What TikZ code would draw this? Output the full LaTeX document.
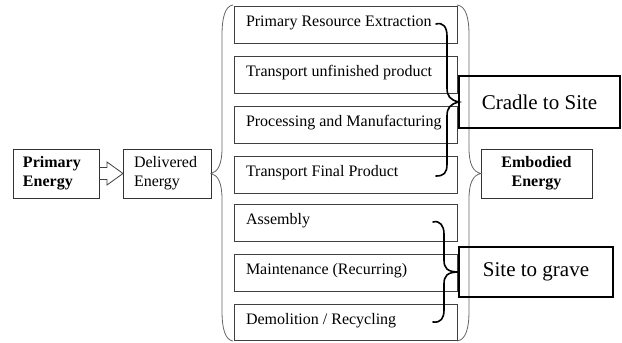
\documentclass[tikz,border=0pt]{standalone}
\usepackage{fontspec}
\setmainfont{Liberation Serif}
\usetikzlibrary{calc}
\begin{document}
\begin{tikzpicture}[x=1pt,y=-1pt,
  every node/.style={inner sep=0pt, outer sep=0pt},
  sidebox/.style={draw=black!80, line width=0.8pt, minimum height=49pt,
    font=\fontsize{16}{19}\selectfont},
  stagebox/.style={draw=black!75, line width=0.7pt, minimum width=223pt,
    minimum height=37pt, anchor=north west},
  stagetext/.style={anchor=base west, font=\fontsize{16}{19}\selectfont},
  phasebox/.style={draw=black, line width=1.6pt, font=\fontsize{21}{24}\selectfont},
  bigbrace/.style={draw=black!60, line width=0.8pt},
  phasebrace/.style={draw=black, line width=1.6pt, line cap=round},
  arrowline/.style={draw=black!75, line width=0.8pt, line join=miter},
]
\useasboundingbox (0,0) rectangle (622,343);

% energy boxes
\node[sidebox, minimum width=86pt, text width=66pt, align=left, font=\fontsize{16}{19}\selectfont\bfseries]
  (p) at (56,173.5) {Primary\\Energy};
\node[sidebox, minimum width=88pt, text width=66pt, align=left]
  (d) at (167,173.5) {Delivered\\Energy};
\node[sidebox, minimum width=111pt, align=center, font=\fontsize{16}{19}\selectfont\bfseries]
  (e) at (536.5,173.5) {Embodied\\Energy};

% hollow block arrow
\draw[arrowline] ($(p.east)+(0,-6)$) -- ++(8,0) -- ++(0,-5.5) -- (d.west)
  -- ($(p.east)+(8,11.5)$) -- ++(0,-5.5) -- ($(p.east)+(0,6)$);

% life-cycle stages
\node[stagebox] (s1) at (234,6) {};
\node[stagebox] (s2) at (234,56) {};
\node[stagebox] (s3) at (234,106) {};
\node[stagebox] (s4) at (234,156) {};
\node[stagebox] (s5) at (234,204) {};
\node[stagebox] (s6) at (234,254) {};
\node[stagebox, minimum height=36pt] (s7) at (234,304) {};
\node[stagetext] (t1) at ($(s1.north west)+(12,20)$) {Primary Resource Extraction};
\node[stagetext] (t2) at ($(s2.north west)+(12,20)$) {Transport unfinished product};
\node[stagetext] (t3) at ($(s3.north west)+(12,20)$) {Processing and Manufacturing};
\node[stagetext] (t4) at ($(s4.north west)+(12,20)$) {Transport Final Product};
\node[stagetext] (t5) at ($(s5.north west)+(12,20)$) {Assembly};
\node[stagetext] (t6) at ($(s6.north west)+(12,20)$) {Maintenance (Recurring)};
\node[stagetext] (t7) at ($(s7.north west)+(12,20)$) {Demolition / Recycling};

% large braces around the stage list
\draw[bigbrace] (233,5) .. controls (225,6) and (222,18) .. (222,35) -- (222,148)
  .. controls (222,164) and (218,172) .. (d.east)
  .. controls (218,175) and (222,183) .. (222,199) -- (222,311)
  .. controls (222,328) and (225,340) .. (233,341);
\draw[bigbrace] (457,5) .. controls (466,6) and (469,18) .. (469,35) -- (469,148)
  .. controls (469,164) and (473,172) .. (e.west)
  .. controls (473,175) and (469,183) .. (469,199) -- (469,311)
  .. controls (469,328) and (466,340) .. (457,341);

% phase boxes
\node[phasebox, minimum width=161pt, minimum height=52pt] (c) at (539.5,102) {Cradle to Site};
\node[phasebox, minimum width=154pt, minimum height=50pt] (g) at (536,272) {Site to grave};

% phase braces
\draw[phasebrace] (436,24) .. controls (443,22) and (447,27) .. (447,36) -- (447,88)
  .. controls (447,96) and (450,100) .. (c.west)
  .. controls (450,104) and (447,108) .. (447,116) -- (447,164)
  .. controls (447,173) and (444,176) .. (436,176);
\draw[phasebrace] (433,222) .. controls (440,220) and (444,226) .. (444,234) -- (444,260)
  .. controls (444,268) and (447,272) .. (g.west)
  .. controls (447,272) and (444,276) .. (444,284) -- (444,310)
  .. controls (444,318) and (441,323) .. (433,322);
\end{tikzpicture}
\end{document}
